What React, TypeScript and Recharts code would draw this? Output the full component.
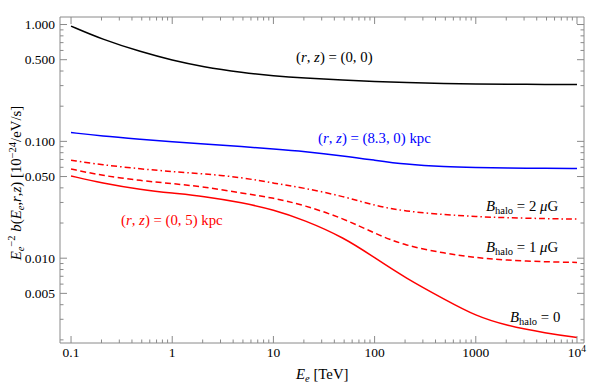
import React from 'react';
import { LineChart, Line, XAxis, YAxis } from 'recharts';

// electron energy grid in TeV, and the loss rate
const energies = [0.1, 0.2, 0.5, 1, 2, 5, 10, 20, 50, 100, 200, 500, 1000, 2000, 5000, 10000];
const center = [0.97, 0.75, 0.58, 0.495, 0.435, 0.388, 0.364, 0.348, 0.334, 0.325, 0.318, 0.313, 0.31, 0.308, 0.307, 0.306];
const solar = [0.119, 0.111, 0.104, 0.099, 0.0955, 0.09, 0.086, 0.082, 0.075, 0.069, 0.0635, 0.0605, 0.0598, 0.0592, 0.0588, 0.0586];
const halo2 = [0.069, 0.063, 0.058, 0.055, 0.053, 0.049, 0.0438, 0.04, 0.0337, 0.0282, 0.0252, 0.0236, 0.0227, 0.0222, 0.0218, 0.0216];
const halo1 = [0.058, 0.051, 0.046, 0.0435, 0.041, 0.036, 0.0328, 0.0285, 0.0218, 0.0163, 0.0128, 0.011, 0.0101, 0.0096, 0.0093, 0.0092];
const halo0 = [0.0506, 0.044, 0.0385, 0.036, 0.034, 0.0298, 0.026, 0.0213, 0.015, 0.0101, 0.0068, 0.0044, 0.0032, 0.00265, 0.00228, 0.0021];

const xMajor = [0.1, 1, 10, 100, 1000, 10000];
const xLabels = ['0.1', '1', '10', '100', '1000', '10^4'];
const yMajor = [0.005, 0.01, 0.05, 0.1, 0.5, 1];
const yLabels = ['0.005', '0.010', '0.050', '0.100', '0.500', '1.000'];

const xDomain = [0.0778, 11730];
const yDomain = [0.00188, 1.16];

const data = energies.map((e, i) => ({
  e,
  center: center[i],
  solar: solar[i],
  halo2: halo2[i],
  halo1: halo1[i],
  halo0: halo0[i],
}));

const minorOf = (decades: number[]) => {
  const out: number[] = [];
  decades.forEach((d) => {
    for (let m = 1; m < 10; m++) out.push(Number((m * d).toPrecision(3)));
  });
  return out;
};

const xTicks = [...minorOf([0.1, 1, 10, 100, 1000]), 10000];
const yTicks = [...minorOf([0.001, 0.01, 0.1]), 1].filter((v) => v >= yDomain[0]);

const SERIF = '"Liberation Serif", "Times New Roman", Times, serif';
const TICK: React.CSSProperties = { fontFamily: SERIF, fontSize: 13.5 };
const TXT: React.CSSProperties = { fontFamily: SERIF, fontSize: 14.8 };
const small = { fontSize: 10.5 };
const AXIS = '#8a8a8a';

const XTick = (props: any) => {
  const { x, y, payload, side } = props;
  const idx = xMajor.indexOf(payload.value);
  const major = idx >= 0;
  const len = major ? 7 : 3.5;
  const dir = side === 'top' ? 1 : -1;
  let label: React.ReactNode = null;
  if (major && side === 'bottom') {
    const txt = xLabels[idx];
    label = txt === '10^4' ? (
      <text x={x} y={y + 14} textAnchor="middle" style={TICK} fill="#000">
        10<tspan dy={-5} style={{ fontSize: 9.5 }}>4</tspan>
      </text>
    ) : (
      <text x={x} y={y + 14} textAnchor="middle" style={TICK} fill="#000">
        {txt}
      </text>
    );
  }
  return (
    <g>
      <line x1={x} x2={x} y1={y} y2={y + dir * len} stroke={AXIS} strokeWidth={1} />
      {label}
    </g>
  );
};

const YTick = (props: any) => {
  const { x, y, payload, side } = props;
  const idx = yMajor.indexOf(payload.value);
  const major = idx >= 0;
  const len = major ? 7 : 3.5;
  const dir = side === 'left' ? 1 : -1;
  return (
    <g>
      <line x1={x} x2={x + dir * len} y1={y} y2={y} stroke={AXIS} strokeWidth={1} />
      {major && side === 'left' && (
        <text x={x - 5} y={y + 4.5} textAnchor="end" style={TICK} fill="#000">
          {yLabels[idx]}
        </text>
      )}
    </g>
  );
};

const I = (p: { children: React.ReactNode }) => <tspan style={{ fontStyle: 'italic' }}>{p.children}</tspan>;

const BLabel = ({ x, y, value, unit }: { x: number; y: number; value: string; unit?: boolean }) => (
  <text x={x} y={y} style={TXT} fill="#000">
    <I>B</I>
    <tspan dy={3} style={small}>halo</tspan>
    <tspan dy={-3}> = {value}</tspan>
    {unit && (
      <>
        <tspan> </tspan>
        <I>{'\u03bc'}</I>
        <tspan>G</tspan>
      </>
    )}
  </text>
);

export default function App() {
  return (
    <div style={{ position: 'absolute', left: 0, top: 0, background: '#fff' }}>
      <LineChart
        width={590}
        height={385}
        data={data}
        margin={{ top: 16, right: 5, bottom: 41, left: 59 }}
      >
        <XAxis
          xAxisId="b"
          dataKey="e"
          type="number"
          scale="log"
          domain={xDomain}
          allowDataOverflow
          ticks={xTicks}
          interval={0}
          height={1}
          tickSize={0}
          tickMargin={0}
          stroke={AXIS}
          tick={<XTick side="bottom" />}
        />
        <XAxis
          xAxisId="t"
          orientation="top"
          dataKey="e"
          type="number"
          scale="log"
          domain={xDomain}
          allowDataOverflow
          ticks={xTicks}
          interval={0}
          height={1}
          tickSize={0}
          tickMargin={0}
          stroke={AXIS}
          tick={<XTick side="top" />}
        />
        <YAxis
          yAxisId="l"
          type="number"
          scale="log"
          domain={yDomain}
          allowDataOverflow
          ticks={yTicks}
          interval={0}
          width={1}
          tickSize={0}
          tickMargin={0}
          stroke={AXIS}
          tick={<YTick side="left" />}
        />
        <YAxis
          yAxisId="r"
          orientation="right"
          type="number"
          scale="log"
          domain={yDomain}
          allowDataOverflow
          ticks={yTicks}
          interval={0}
          width={1}
          tickSize={0}
          tickMargin={0}
          stroke={AXIS}
          tick={<YTick side="right" />}
        />
        <Line xAxisId="b" yAxisId="l" type="basis" dataKey="center" stroke="#000" strokeWidth={1.5} dot={false} isAnimationActive={false} />
        <Line xAxisId="b" yAxisId="l" type="basis" dataKey="solar" stroke="#0000ff" strokeWidth={1.5} dot={false} isAnimationActive={false} />
        <Line xAxisId="b" yAxisId="l" type="basis" dataKey="halo2" stroke="#ff0000" strokeWidth={1.5} strokeDasharray="6 3 1.5 3" dot={false} isAnimationActive={false} />
        <Line xAxisId="b" yAxisId="l" type="basis" dataKey="halo1" stroke="#ff0000" strokeWidth={1.5} strokeDasharray="6 3.5" dot={false} isAnimationActive={false} />
        <Line xAxisId="b" yAxisId="l" type="basis" dataKey="halo0" stroke="#ff0000" strokeWidth={1.5} dot={false} isAnimationActive={false} />

        <text x={296} y={62} style={TXT} fill="#000">
          (<I>r</I>, <I>z</I>) = (0, 0)
        </text>
        <text x={318} y={143} style={TXT} fill="#0000ff">
          (<I>r</I>, <I>z</I>) = (8.3, 0) kpc
        </text>
        <text x={121} y={225} style={TXT} fill="#ff0000">
          (<I>r</I>, <I>z</I>) = (0, 5) kpc
        </text>
        <BLabel x={486} y={211} value="2" unit />
        <BLabel x={486} y={252} value="1" unit />
        <BLabel x={510} y={322} value="0" />

        <text x={296} y={379} style={TXT} fill="#000">
          <I>E</I>
          <tspan dy={3} style={{ ...small, fontStyle: 'italic' }}>e</tspan>
          <tspan dy={-3}> [TeV]</tspan>
        </text>
        <text x={0} y={0} transform="translate(21,183) rotate(-90)" textAnchor="middle" style={TXT} fill="#000">
          <I>E</I>
          <tspan dy={3} style={{ ...small, fontStyle: 'italic' }}>e</tspan>
          <tspan dy={-9} style={small}>{'\u22122'}</tspan>
          <tspan dy={6}> </tspan>
          <I>b</I>
          <tspan>(</tspan>
          <I>E</I>
          <tspan dy={3} style={{ ...small, fontStyle: 'italic' }}>e</tspan>
          <tspan dy={-3}>,</tspan>
          <I>r</I>
          <tspan>,</tspan>
          <I>z</I>
          <tspan>) [10</tspan>
          <tspan dy={-5} style={small}>{'\u221224'}</tspan>
          <tspan dy={5}>/eV/s]</tspan>
        </text>
      </LineChart>
    </div>
  );
}
